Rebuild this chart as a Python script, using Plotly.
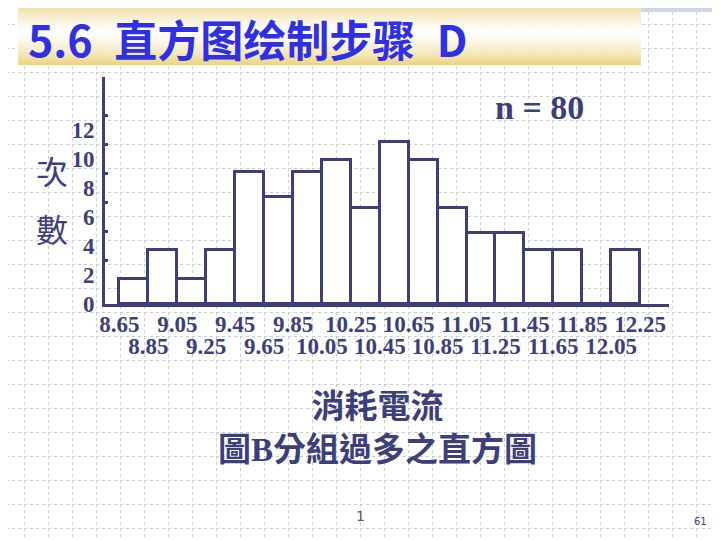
import plotly.graph_objects as go

# ---------------- data ----------------
bin_low = [8.65, 8.85, 9.05, 9.25, 9.45, 9.65, 9.85, 10.05, 10.25,
           10.45, 10.65, 10.85, 11.05, 11.25, 11.45, 11.65, 11.85, 12.05]
counts = [1.7, 3.7, 1.7, 3.7, 9.1, 7.4, 9.1, 9.9, 6.6,
          11.2, 9.9, 6.6, 4.9, 4.9, 3.7, 3.7, 0, 3.7]
bin_width = 0.2
x_labels_row1 = ["8.65", "9.05", "9.45", "9.85", "10.25", "10.65", "11.05", "11.45", "11.85", "12.25"]
x_labels_row2 = ["8.85", "9.25", "9.65", "10.05", "10.45", "10.85", "11.25", "11.65", "12.05"]
y_tick_vals = [0, 2, 4, 6, 8, 10, 12]
y_dot_vals = [3, 5, 7, 9, 11, 13]
x_range = [8.55, 12.45]
y_range = [0, 15.66]

title_text = "5.6\u2002直方图绘制步骤\u2002D"
y_title_chars = ["次", "數"]
n_text = "n = 80"
caption_line1 = "消耗電流"
caption_line2 = "圖<span style='font-family:Liberation Serif'>B</span>分組過多之直方圖"

# ---------------- style ----------------
# page offset: the browser body has an 8px margin, so the figure is
# 712x532 and all positions below are given in page pixels.
OFF = 8
W, H = 720 - OFF, 540 - OFF
AX_L, AX_R, AX_T, AX_B = 105, 669, 77, 304      # plot area in page pixels
L, R, T, B = AX_L - OFF, 720 - AX_R, AX_T - OFF, 540 - AX_B
PW, PH = AX_R - AX_L, AX_B - AX_T
NAVY = "#3c3f7a"
TITLE_BLUE = "#2f2fe6"
SERIF = "Liberation Serif"
CJK = "Noto Sans CJK TC"


def px2x(px):
    return (px - AX_L) / PW


def py2y(py):
    return (AX_B - py) / PH


fig = go.Figure()
fig.add_trace(go.Bar(
    x=bin_low, y=counts, width=bin_width, offset=0,
    marker=dict(color="white", line=dict(color=NAVY, width=3)),
    hoverinfo="skip", showlegend=False,
))
# carrier for the second row of x labels
fig.add_trace(go.Scatter(
    x=[float(v) for v in x_labels_row2], y=[0] * len(x_labels_row2),
    xaxis="x2", yaxis="y", mode="markers", marker=dict(opacity=0),
    hoverinfo="skip", showlegend=False,
))

shapes = []
# slide background grid
for k in range(0, 31):
    xp = 0.5 + 24 * k
    shapes.append(dict(type="line", xref="paper", yref="paper",
                       x0=px2x(xp), x1=px2x(xp), y0=py2y(0), y1=py2y(540),
                       line=dict(color="#c9cbd6", width=1, dash="dot"), layer="below"))
for k in range(0, 23):
    yp = 0.5 + 24 * k
    shapes.append(dict(type="line", xref="paper", yref="paper",
                       x0=px2x(0), x1=px2x(720), y0=py2y(yp), y1=py2y(yp),
                       line=dict(color="#c9cbd6", width=1, dash="dot"), layer="below"))
# top-right stippled band
shapes.append(dict(type="rect", xref="paper", yref="paper",
                   x0=px2x(575), x1=px2x(720), y0=py2y(0), y1=py2y(12),
                   fillcolor="rgba(185,200,228,0.75)", line=dict(width=0), layer="below"))
# title box gradient
bx0, bx1, by0, by1 = 18, 641, 6, 65
nstrip = 30
gold = (236, 212, 128)
for i in range(nstrip):
    t = (i + 0.5) / nstrip
    f = min(1.0, abs(t - 0.45) / 0.55)
    f = f ** 1.3
    c = tuple(int(255 * (1 - f) + g * f) for g in gold)
    ya = by0 + (by1 - by0) * i / nstrip
    yb = by0 + (by1 - by0) * (i + 1) / nstrip
    shapes.append(dict(type="rect", xref="paper", yref="paper",
                       x0=px2x(bx0), x1=px2x(bx1), y0=py2y(ya), y1=py2y(yb + 0.3),
                       fillcolor="rgb(%d,%d,%d)" % c, line=dict(width=0), layer="below"))

annotations = []
annotations.append(dict(text=title_text, xref="paper", yref="paper",
                        x=px2x(26), y=py2y(38), xanchor="left", yanchor="middle",
                        showarrow=False,
                        font=dict(family="Noto Sans CJK SC", size=43, color=TITLE_BLUE, weight="bold")))
for ch, yy in zip(y_title_chars, [170, 228]):
    annotations.append(dict(text=ch, xref="paper", yref="paper",
                            x=px2x(52), y=py2y(yy), xanchor="center", yanchor="middle",
                            showarrow=False, font=dict(family=CJK, size=32, color=NAVY)))
annotations.append(dict(text=n_text, xref="paper", yref="paper",
                        x=px2x(539), y=py2y(107), xanchor="center", yanchor="middle",
                        showarrow=False,
                        font=dict(family=SERIF, size=34, color=NAVY, weight="bold")))
annotations.append(dict(text=caption_line1 + "<br>" + caption_line2,
                        xref="paper", yref="paper",
                        x=px2x(377), y=py2y(425), xanchor="center", yanchor="middle",
                        align="center", showarrow=False,
                        font=dict(family=CJK, size=33, color=NAVY, weight="bold")))
annotations.append(dict(text="1", xref="paper", yref="paper",
                        x=px2x(360), y=py2y(516), xanchor="center", yanchor="middle",
                        showarrow=False, font=dict(family="DejaVu Sans", size=14, color="#55577a")))
annotations.append(dict(text="61", xref="paper", yref="paper",
                        x=px2x(700), y=py2y(521), xanchor="center", yanchor="middle",
                        showarrow=False, font=dict(family="DejaVu Sans", size=10, color="#3c3f7a")))

tickfont = dict(family=SERIF, size=23, color=NAVY, weight="bold")

fig.update_layout(
    width=W, height=H,
    margin=dict(l=L, r=R, t=T, b=B, pad=0),
    paper_bgcolor="white", plot_bgcolor="rgba(0,0,0,0)",
    bargap=0, showlegend=False,
    shapes=shapes, annotations=annotations,
    xaxis=dict(range=x_range, tickmode="array",
               tickvals=[float(v) for v in x_labels_row1], ticktext=x_labels_row1,
               ticks="", showline=True, linecolor=NAVY, linewidth=3,
               showgrid=False, zeroline=False, tickfont=tickfont,
               ticklabelstandoff=-3, fixedrange=True),
    xaxis2=dict(range=x_range, overlaying="x", anchor="y", side="bottom",
                tickmode="array",
                tickvals=[float(v) for v in x_labels_row2], ticktext=x_labels_row2,
                ticks="", showline=False, showgrid=False, zeroline=False,
                tickfont=tickfont, ticklabelstandoff=26, fixedrange=True),
    yaxis=dict(range=y_range, tickmode="array", tickvals=y_tick_vals,
               ticktext=[str(v) for v in y_tick_vals],
               ticks="", showline=True, linecolor=NAVY, linewidth=3,
               showgrid=False, zeroline=False, tickfont=tickfont,
               ticklabelstandoff=3, fixedrange=True,
               minor=dict(tickmode="array", tickvals=y_dot_vals, ticks="inside",
                          ticklen=3, tickwidth=3, tickcolor=NAVY, showgrid=False)),
)

fig.write_html("out.html")
